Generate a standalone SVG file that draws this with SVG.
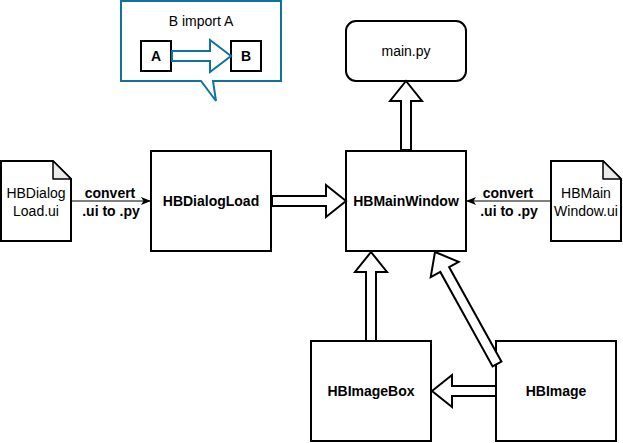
<svg xmlns="http://www.w3.org/2000/svg" width="623" height="443" viewBox="0 0 623 443">
<defs>
<style>
.box{fill:#fff;stroke:#000;stroke-width:2}
.t{font-family:"Liberation Sans",Arial,sans-serif;font-size:14px;fill:#000;text-anchor:middle}
.b{font-weight:bold}
.fa{fill:#fff;stroke:#000;stroke-width:2;stroke-linejoin:miter}
.line{stroke:#000;stroke-width:1;fill:none}
.blue{fill:#fff;stroke:#10739E;stroke-width:2}
</style>
<marker id="arr" viewBox="0 0 10 10" refX="9" refY="5" markerWidth="10" markerHeight="10" markerUnits="userSpaceOnUse" orient="auto">
<path d="M0,1 L10,5 L0,9 L2.5,5 Z" fill="#000"/>
</marker>
</defs>
<rect width="623" height="443" fill="#fff"/>

<g id="callout">
<path class="blue" d="M121,1 H281 V81 H213 L216,101 L201,81 H121 Z"/>
<text class="t" x="201" y="26">B import A</text>
<rect class="box" x="141" y="41" width="30" height="30" stroke-width="1"/>
<text class="t b" x="156" y="61">A</text>
<rect class="box" x="231" y="41" width="30" height="30" stroke-width="1"/>
<text class="t b" x="246" y="61">B</text>
<path class="blue" d="M172,51 H210 V40 L231,56 L210,72 V61 H172 Z"/>
</g>

<g id="mainpy">
<rect class="box" x="346" y="21" width="120" height="60" rx="10"/>
<text class="t" x="406" y="56">main.py</text>
</g>

<g id="HBDialogLoad_ui">
<path class="box" d="M1,161 H53 L71,179 V241 H1 Z"/>
<path d="M53,161 V179 H71 Z" fill="#ebebeb" stroke="#000" stroke-width="1.5" stroke-linejoin="round"/>
<text class="t" x="36" y="198">HBDialog</text>
<text class="t" x="36" y="216">Load.ui</text>
</g>

<g id="HBDialogLoad">
<rect class="box" x="151" y="151" width="120" height="100"/>
<text class="t b" x="211" y="206">HBDialogLoad</text>
</g>

<g id="HBMainWindow">
<rect class="box" x="346" y="151" width="120" height="100"/>
<text class="t b" x="406" y="206">HBMainWindow</text>
</g>

<g id="HBMainWindow_ui">
<path class="box" d="M551,161 H603 L621,179 V241 H551 Z"/>
<path d="M603,161 V179 H621 Z" fill="#ebebeb" stroke="#000" stroke-width="1.5" stroke-linejoin="round"/>
<text class="t" x="586" y="198">HBMain</text>
<text class="t" x="586" y="216">Window.ui</text>
</g>

<g id="HBImageBox">
<rect class="box" x="311" y="341" width="120" height="100"/>
<text class="t b" x="371" y="396">HBImageBox</text>
</g>

<g id="HBImage">
<rect class="box" x="496" y="341" width="120" height="100"/>
<text class="t b" x="556" y="396">HBImage</text>
</g>

<g id="connectors">
<line class="line" x1="71" y1="201" x2="150" y2="201" marker-end="url(#arr)"/>
<text class="t b" x="110" y="198">convert</text>
<text class="t b" x="111" y="216">.ui to .py</text>
<line class="line" x1="551" y1="201" x2="467" y2="201" marker-end="url(#arr)"/>
<text class="t b" x="508" y="198">convert</text>
<text class="t b" x="509" y="216">.ui to .py</text>

<path class="fa" d="M272,196 H326 V185 L346,201 L326,217 V206 H272 Z"/>
<path class="fa" d="M401,150 V101 H390 L406,81 L422,101 H411 V150 Z"/>
<path class="fa" d="M366,341 V272 H355 L371,252 L387,272 H376 V341 Z"/>
<path class="fa" d="M496,386 H452 V375 L432,391 L452,407 V396 H496 Z"/>
<path class="fa" d="M501.4,361.6 L449.1,267.1 L458.7,261.8 L435,252 L430.7,277.2 L440.3,271.9 L492.6,366.4 Z"/>
</g>
</svg>
